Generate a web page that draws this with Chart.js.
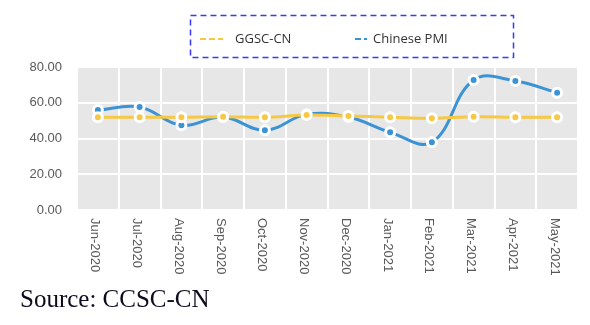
<!DOCTYPE html>
<html>
<head>
<meta charset="utf-8">
<script src="https://cdn.jsdelivr.net/npm/chart.js@4.4.1/dist/chart.umd.min.js"></script>
<style>
    body{
        margin:0;
        background:#ffffff;
    }
    #wrap{
        position:relative;
        width:590px;
        height:325px;
    }
    #source{
        position:absolute;
        left:20px;
        top:285px;
        font-family:"Liberation Serif","Times New Roman",serif;
        font-size:25px;
        color:#0c0c1e;
        white-space:nowrap;
    }
</style>
</head>
<body>

<div id="wrap">
    <canvas id="pmiChart" width="590" height="325"></canvas>
    <div id="source">Source: CCSC-CN</div>
</div>

<script>

// DATA

const months = [
    "Jun-2020","Jul-2020","Aug-2020","Sep-2020",
    "Oct-2020","Nov-2020","Dec-2020","Jan-2021",
    "Feb-2021","Mar-2021","Apr-2021","May-2021"
];

const ggscValues = [
    51.9, 51.9, 51.9, 52.2, 51.9, 53.1,
    52.6, 51.9, 51.3, 52.2, 51.9, 51.9
];

const pmiValues = [
    55.9, 57.6, 47.4, 52.0, 44.6, 53.5,
    52.0, 43.5, 37.9, 72.7, 72.2, 65.6
];

const seriesNames = ["GGSC-CN","Chinese PMI"];

const yTicks = [0, 20, 40, 60, 80];

// COLOURS

const yellow = "#f7c843";
const blue = "#3b93d6";
const labelGrey = "#595959";

// PLOT BACKGROUND

const plotBackground = {
    id:"plotBackground",
    beforeDraw(chart){
        const {ctx, chartArea} = chart;
        ctx.save();
        ctx.fillStyle = "#e7e7e7";
        ctx.fillRect(
            chartArea.left,
            chartArea.top,
            chartArea.right - chartArea.left,
            chartArea.bottom - chartArea.top
        );
        ctx.restore();
    }
};

// MONTH LABELS (rotated clockwise)

const monthLabels = {
    id:"monthLabels",
    afterDraw(chart){
        const ctx = chart.ctx;
        const xs = chart.scales.x;
        ctx.save();
        ctx.fillStyle = labelGrey;
        ctx.font = "13px 'Liberation Sans', Arial, sans-serif";
        ctx.textAlign = "left";
        ctx.textBaseline = "middle";
        months.forEach((m, i) => {
            const x = xs.getPixelForValue(i) - 3;
            ctx.save();
            ctx.translate(x, chart.chartArea.bottom + 8);
            ctx.rotate(Math.PI / 2);
            ctx.fillText(m, 0, 0);
            ctx.restore();
        });
        ctx.restore();
    }
};

// BOXED LEGEND

const boxedLegend = {
    id:"boxedLegend",
    afterDraw(chart){
        const ctx = chart.ctx;
        ctx.save();

        ctx.strokeStyle = "#3a3af2";
        ctx.lineWidth = 1.5;
        ctx.setLineDash([6,4]);
        ctx.strokeRect(190.5, 15.5, 323, 42);

        const sampleX = [200, 355];
        const sampleLen = [23, 12];
        const textX = [235, 373];
        const y = 39;

        ctx.font = "13px 'Open Sans', 'Noto Sans', sans-serif";
        ctx.textBaseline = "middle";
        ctx.textAlign = "left";

        chart.data.datasets.forEach((ds, i) => {
            ctx.strokeStyle = ds.borderColor;
            ctx.lineWidth = 2;
            ctx.setLineDash([6,3]);
            ctx.beginPath();
            ctx.moveTo(sampleX[i], y);
            ctx.lineTo(sampleX[i] + sampleLen[i], y);
            ctx.stroke();

            ctx.fillStyle = "#333333";
            ctx.fillText(ds.label, textX[i], y);
        });

        ctx.restore();
    }
};

// CHART

new Chart(document.getElementById("pmiChart"),{

    type:"line",

    data:{
        labels:months,
        datasets:[
            {
                label:seriesNames[0],
                data:ggscValues,
                borderColor:yellow,
                backgroundColor:yellow,
                pointBackgroundColor:yellow,
                pointBorderColor:"#ffffff",
                borderWidth:3,
                pointRadius:4.5,
                pointBorderWidth:3,
                tension:0.4
            },
            {
                label:seriesNames[1],
                data:pmiValues,
                borderColor:blue,
                backgroundColor:blue,
                pointBackgroundColor:blue,
                pointBorderColor:"#ffffff",
                borderWidth:3,
                pointRadius:4.5,
                pointBorderWidth:3,
                tension:0.4
            }
        ]
    },

    options:{
        responsive:false,
        animation:false,
        devicePixelRatio:1,
        layout:{
            padding:{left:0, top:67, right:12, bottom:115}
        },
        plugins:{
            legend:{display:false},
            tooltip:{enabled:false}
        },
        scales:{
            x:{
                offset:true,
                grid:{
                    offset:true,
                    color:"#ffffff",
                    lineWidth:2,
                    drawTicks:false
                },
                border:{display:false},
                ticks:{display:false},
                afterFit(scale){
                    scale.height = 0;
                }
            },
            y:{
                min:yTicks[0],
                max:yTicks[yTicks.length - 1],
                afterBuildTicks(scale){
                    scale.ticks = yTicks.map(v => ({value:v}));
                },
                grid:{
                    color:"#ffffff",
                    lineWidth:2,
                    drawTicks:false
                },
                border:{display:false},
                ticks:{
                    padding:15,
                    color:labelGrey,
                    font:{
                        family:"'Liberation Sans', Arial, sans-serif",
                        size:13
                    },
                    callback:v => v.toFixed(2)
                },
                afterFit(scale){
                    scale.width = 77;
                }
            }
        }
    },

    plugins:[plotBackground, monthLabels, boxedLegend]
});

</script>
</body>
</html>
